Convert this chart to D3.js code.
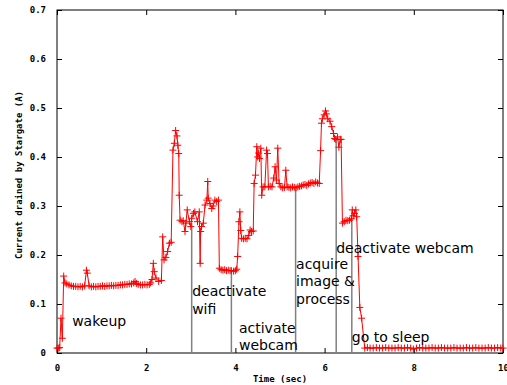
<!DOCTYPE html>
<html>
<head>
<meta charset="utf-8">
<script src="https://cdn.jsdelivr.net/npm/d3@7"></script>
<style>
  body { margin: 0; background: #fff; }
  svg { display: block; }
  .tick text, .axis-label { font-family: "DejaVu Sans Mono", monospace; font-weight: bold; font-size: 9px; fill: #000; }
  .note { font-family: "DejaVu Sans", sans-serif; font-size: 14px; fill: #000; }
</style>
</head>
<body>
<svg id="chart" width="507" height="385"></svg>
<script>
// time (s) and current (A), one line per phase
const timeSec = [
  0.00, 0.03, 0.06, 0.09, 0.12, 0.15, 0.18,
  0.22, 0.27, 0.32, 0.37, 0.42, 0.47, 0.52, 0.57, 0.62, 0.66, 0.68, 0.72, 0.77, 0.82, 0.87, 0.92, 0.97, 1.02, 1.07, 1.12, 1.17, 1.22, 1.27, 1.32, 1.37, 1.42, 1.47, 1.52, 1.57, 1.62, 1.67, 1.72, 1.75, 1.78, 1.82, 1.87, 1.92, 1.97, 2.02, 2.07, 2.10,
  2.13, 2.16, 2.18, 2.22, 2.28, 2.34, 2.37, 2.40, 2.44, 2.48, 2.52, 2.56, 2.60, 2.63, 2.66, 2.69, 2.71, 2.73, 2.74, 2.76,
  2.80, 2.83, 2.87, 2.89, 2.92, 2.97, 3.00, 3.02, 3.06, 3.09, 3.15, 3.19, 3.21, 3.22, 3.24, 3.28, 3.32, 3.36, 3.38, 3.39, 3.43, 3.47, 3.50, 3.54, 3.58, 3.62, 3.64,
  3.68, 3.72, 3.76, 3.80, 3.84, 3.88, 3.91, 3.96, 4.00, 4.03, 4.05, 4.08, 4.10, 4.12, 4.14, 4.18, 4.22, 4.26, 4.30, 4.33, 4.36, 4.40,
  4.42, 4.45, 4.48, 4.50, 4.52, 4.54, 4.57, 4.59, 4.62, 4.66, 4.70, 4.72, 4.74, 4.78, 4.82, 4.86, 4.89, 4.92, 4.95, 4.98, 5.02, 5.06, 5.10, 5.13, 5.16, 5.20,
  5.24, 5.28, 5.32, 5.36, 5.40, 5.44, 5.48, 5.52, 5.56, 5.60, 5.64, 5.68, 5.72, 5.76, 5.80, 5.84, 5.88,
  5.91, 5.93, 5.95, 5.99, 6.02, 6.04, 6.07, 6.12, 6.16, 6.20, 6.22, 6.25, 6.29, 6.32, 6.35, 6.37, 6.40,
  6.44, 6.48, 6.52, 6.56, 6.60, 6.62, 6.64, 6.67, 6.70, 6.72, 6.75, 6.79, 6.83, 6.90,
  6.96, 7.02, 7.09, 7.16, 7.23, 7.30, 7.37, 7.44, 7.51, 7.58, 7.65, 7.72, 7.79, 7.86, 7.93, 7.99,
  8.06, 8.13, 8.20, 8.27, 8.34, 8.41, 8.48, 8.55, 8.62, 8.69, 8.76, 8.83, 8.90, 8.97,
  9.04, 9.11, 9.18, 9.25, 9.32, 9.39, 9.46, 9.53, 9.60, 9.67, 9.74, 9.81, 9.88, 9.95, 10.00
];
const currentA = [
  0.010, 0.010, 0.011, 0.071, 0.030, 0.157, 0.143,
  0.141, 0.139, 0.137, 0.136, 0.136, 0.135, 0.136, 0.135, 0.137, 0.169, 0.163, 0.137, 0.135, 0.136, 0.135, 0.136, 0.136, 0.137, 0.136, 0.137, 0.137, 0.138, 0.137, 0.138, 0.138, 0.139, 0.139, 0.140, 0.140, 0.141, 0.141, 0.143, 0.146, 0.142, 0.140, 0.139, 0.139, 0.140, 0.139, 0.140, 0.143,
  0.150, 0.183, 0.166, 0.153, 0.146, 0.148, 0.237, 0.190, 0.195, 0.207, 0.224, 0.226, 0.414, 0.428, 0.454, 0.443, 0.424, 0.407, 0.322, 0.271,
  0.268, 0.270, 0.248, 0.265, 0.292, 0.268, 0.258, 0.275, 0.285, 0.288, 0.268, 0.288, 0.183, 0.248, 0.258, 0.265, 0.302, 0.312, 0.350, 0.316, 0.305, 0.295, 0.300, 0.312, 0.309, 0.312, 0.173,
  0.170, 0.169, 0.170, 0.168, 0.169, 0.168, 0.168, 0.167, 0.168, 0.171, 0.197, 0.268, 0.288, 0.250, 0.234, 0.233, 0.234, 0.233, 0.240, 0.251, 0.248, 0.249,
  0.346, 0.363, 0.421, 0.400, 0.408, 0.397, 0.418, 0.322, 0.339, 0.339, 0.414, 0.407, 0.339, 0.340, 0.339, 0.357, 0.380, 0.353, 0.418, 0.346, 0.339, 0.337, 0.338, 0.373, 0.339, 0.338,
  0.337, 0.339, 0.338, 0.337, 0.339, 0.340, 0.341, 0.343, 0.344, 0.342, 0.345, 0.347, 0.348, 0.346, 0.349, 0.347, 0.346,
  0.413, 0.469, 0.478, 0.486, 0.494, 0.488, 0.478, 0.473, 0.462, 0.448, 0.438, 0.436, 0.441, 0.420, 0.436, 0.436, 0.265,
  0.268, 0.271, 0.270, 0.271, 0.274, 0.292, 0.280, 0.285, 0.292, 0.278, 0.197, 0.093, 0.071, 0.010,
  0.011, 0.010, 0.010, 0.011, 0.010, 0.010, 0.011, 0.010, 0.010, 0.010, 0.011, 0.010, 0.010, 0.011, 0.010, 0.008,
  0.010, 0.011, 0.010, 0.010, 0.010, 0.011, 0.010, 0.010, 0.011, 0.010, 0.010, 0.010, 0.011, 0.010,
  0.010, 0.010, 0.011, 0.010, 0.010, 0.011, 0.010, 0.010, 0.010, 0.011, 0.010, 0.010, 0.011, 0.010, 0.010
];

const xTicks = [0, 2, 4, 6, 8, 10];
const yTicks = [0, 0.1, 0.2, 0.3, 0.4, 0.5, 0.6, 0.7];

// event markers: time of the drop line, current where it meets the trace
const eventTimes = [3.02, 3.91, 5.35, 6.26, 6.61];
const eventLevels = [0.265, 0.168, 0.337, 0.436, 0.274];
const noteText = [
  ["wakeup"],
  ["deactivate", "wifi"],
  ["activate", "webcam"],
  ["acquire", "image &", "process"],
  ["deactivate webcam"],
  ["go to sleep"]
];

const margin = {top: 10, right: 4, bottom: 32, left: 57};
const width = 507 - margin.left - margin.right;
const height = 385 - margin.top - margin.bottom;

const svg = d3.select("#chart");
const g = svg.append("g")
  .attr("transform", "translate(" + margin.left + "," + margin.top + ")");

const x = d3.scaleLinear().domain([0, 10]).range([0, width]);
const y = d3.scaleLinear().domain([0, 0.7]).range([height, 0]);

const fmtY = d => d === 0 ? "0" : d3.format(".1f")(d);

// gnuplot style: ticks point inward, mirrored on top/right
g.append("g")
  .attr("transform", "translate(0," + height + ")")
  .call(d3.axisBottom(x).tickValues(xTicks).tickSize(-5).tickPadding(12).tickFormat(d3.format("d")));
g.append("g")
  .call(d3.axisTop(x).tickValues(xTicks).tickSize(-5).tickFormat(""));
g.append("g")
  .call(d3.axisLeft(y).tickValues(yTicks).tickSize(-5).tickPadding(11).tickFormat(fmtY));
g.append("g")
  .attr("transform", "translate(" + width + ",0)")
  .call(d3.axisRight(y).tickValues(yTicks).tickSize(-5).tickFormat(""));

g.selectAll(".domain").remove();
g.selectAll(".tick line").attr("stroke", "#000").attr("stroke-width", 1);

g.append("rect")
  .attr("x", 0).attr("y", 0)
  .attr("width", width).attr("height", height)
  .attr("fill", "none").attr("stroke", "#000").attr("stroke-width", 1);

// event drop lines
g.selectAll(".event")
  .data(eventTimes)
  .enter().append("line")
  .attr("x1", d => x(d)).attr("x2", d => x(d))
  .attr("y1", (d, i) => y(eventLevels[i]))
  .attr("y2", y(0))
  .attr("stroke", "#808080")
  .attr("stroke-width", 1.5);

const pts = timeSec.map((t, i) => [t, currentA[i]]);

g.append("path")
  .datum(pts)
  .attr("fill", "none")
  .attr("stroke", "#ff0000")
  .attr("stroke-width", 1)
  .attr("d", d3.line().x(d => x(d[0])).y(d => y(d[1])));

const s = 3.5;
g.append("path")
  .attr("fill", "none")
  .attr("stroke", "#ff0000")
  .attr("stroke-width", 1)
  .attr("d", pts.map(d => {
    const px = x(d[0]), py = y(d[1]);
    return "M" + (px - s) + "," + py + "H" + (px + s) + "M" + px + "," + (py - s) + "V" + (py + s);
  }).join(""));

// note placement in data units: [time, current of first baseline]
const notePlace = [[0.34, 0.055], [3.03, 0.116], [4.08, 0.041], [5.36, 0.172], [6.26, 0.204], [6.61, 0.022]];
const lineGap = 17.5;
noteText.forEach((lines, i) => {
  const t = g.append("text").attr("class", "note")
    .attr("x", x(notePlace[i][0]))
    .attr("y", y(notePlace[i][1]));
  lines.forEach((ln, j) => {
    t.append("tspan")
      .attr("x", x(notePlace[i][0]))
      .attr("dy", j === 0 ? 0 : lineGap)
      .text(ln);
  });
});

svg.append("text")
  .attr("class", "axis-label")
  .attr("x", margin.left + width / 2)
  .attr("y", 382)
  .attr("text-anchor", "middle")
  .text("Time (sec)");

svg.append("text")
  .attr("class", "axis-label")
  .attr("transform", "translate(22,175) rotate(-90)")
  .attr("text-anchor", "middle")
  .text("Current drained by Stargate (A)");
</script>
</body>
</html>
